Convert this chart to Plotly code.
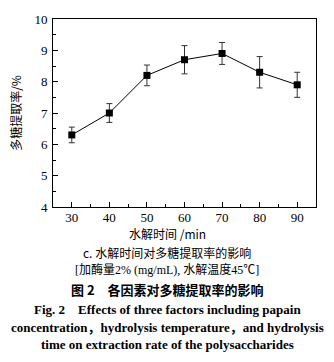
import plotly.graph_objects as go

time_min = [30, 40, 50, 60, 70, 80, 90]
rate = [6.3, 7.0, 8.2, 8.7, 8.9, 8.3, 7.9]
err = [0.25, 0.3, 0.33, 0.45, 0.35, 0.5, 0.4]

W, H = 334, 362
L, R, T, B = 53, 18, 12, 155
ph = H - T - B

def py(y):
    return (H - B - y) / ph

fig = go.Figure()
fig.add_trace(go.Scatter(
    x=time_min, y=rate, mode="lines+markers",
    line=dict(color="black", width=1),
    marker=dict(symbol="square", size=7, color="black"),
    error_y=dict(type="data", array=err, visible=True, color="#333", thickness=1, width=3),
    showlegend=False,
))

serif = "Liberation Serif, Times New Roman, serif"
cjk = "Noto Sans CJK SC"
axis_common = dict(showline=True, linecolor="black", linewidth=1, mirror=True,
                   ticks="inside", ticklen=5, tickcolor="black", showgrid=False, zeroline=False,
                   tickfont=dict(family=serif, size=13, color="black"))
fig.update_xaxes(range=[25, 95], tickvals=[30, 40, 50, 60, 70, 80, 90], ticklabelstandoff=-2,
                 minor=dict(ticks="inside", ticklen=3, dtick=5, tick0=25, tickcolor="black"),
                 **axis_common)
fig.update_yaxes(range=[4, 10], dtick=1, ticklabelstandoff=2,
                 minor=dict(ticks="inside", ticklen=3, dtick=0.5, tickcolor="black"),
                 title=dict(text="多糖提取率/%", font=dict(family=cjk + ", " + serif, size=12, color="black"), standoff=10),
                 **axis_common)

ann = [
    ("水解时间 /min", 234, dict(family=cjk + ", " + serif, size=12)),
    ("c. 水解时间对多糖提取率的影响", 254, dict(family=cjk, size=12)),
    ("[加酶量2% (mg/mL), 水解温度45℃]", 272, dict(family=serif + ", " + cjk, size=12)),
    ("<b>图 2　各因素对多糖提取率的影响</b>", 293, dict(family=cjk, size=13)),
    ("<b>Fig. 2    Effects of three factors including papain</b>", 313, dict(family=serif, size=13)),
    ("<b>concentration，hydrolysis temperature，and hydrolysis</b>", 332, dict(family=serif + ", " + cjk, size=13)),
    ("<b>time on extraction rate of the polysaccharides</b>", 350, dict(family=serif, size=13)),
]
for text, y, f in ann:
    f["color"] = "black"
    fig.add_annotation(text=text, x=(167 - L) / (W - L - R), xref="paper", y=py(y), yref="paper",
                       xanchor="center", yanchor="middle", showarrow=False, font=f)

fig.update_layout(width=W, height=H, margin=dict(l=L, r=R, t=T, b=B),
                  plot_bgcolor="white", paper_bgcolor="white")
fig.write_html("out.html")
